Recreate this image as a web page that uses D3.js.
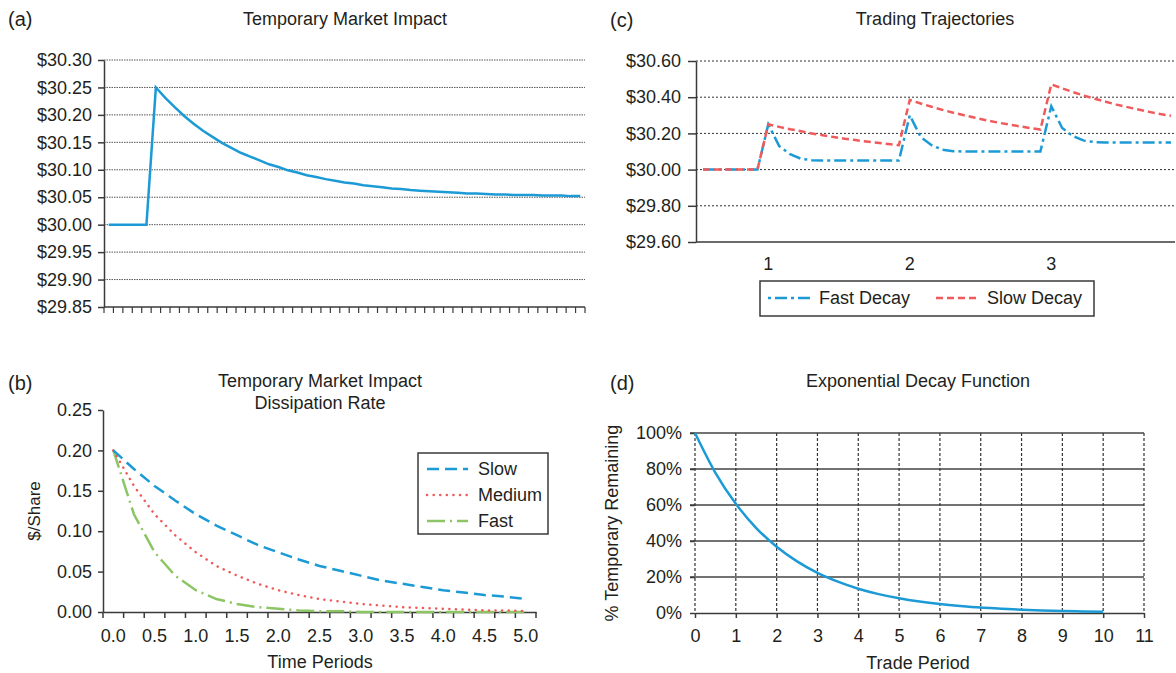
<!DOCTYPE html>
<html lang="en">
<head>
<meta charset="UTF-8" />
<title>Temporary Market Impact</title>
<script src="https://d3js.org/d3.v7.min.js"></script>
<style>
  body {
    margin: 0;
    background: white;
    font-family: "Liberation Sans", Arial, sans-serif;
  }
  svg { display: block; }
  text { fill: #231f20; }
</style>
</head>
<body>
<svg width="1176" height="673"></svg>
<script>
// (a) price after one trade
const impactPrice = [30.000, 30.000, 30.000, 30.000, 30.000,
  30.250, 30.231, 30.214, 30.198, 30.184, 30.171, 30.160, 30.149, 30.140, 30.131,
  30.124, 30.117, 30.110, 30.105, 30.099, 30.095, 30.090, 30.087, 30.083, 30.080,
  30.077, 30.075, 30.072, 30.070, 30.068, 30.066, 30.065, 30.063, 30.062, 30.061,
  30.060, 30.059, 30.058, 30.057, 30.057, 30.056, 30.055, 30.055, 30.054, 30.054,
  30.054, 30.053, 30.053, 30.053, 30.052, 30.052];
const impactTicks = [29.85, 29.90, 29.95, 30.00, 30.05, 30.10, 30.15, 30.20, 30.25, 30.30];

// (b) dissipation rate
const timePeriods = [0.00, 0.25, 0.50, 0.75, 1.00, 1.25, 1.50, 1.75, 2.00, 2.25, 2.50,
  2.75, 3.00, 3.25, 3.50, 3.75, 4.00, 4.25, 4.50, 4.75, 5.00];
const slowDecay = [0.200, 0.177, 0.156, 0.138, 0.121, 0.107, 0.095, 0.083, 0.074, 0.065, 0.057,
  0.051, 0.045, 0.039, 0.035, 0.031, 0.027, 0.024, 0.021, 0.019, 0.016];
const mediumDecay = [0.200, 0.156, 0.121, 0.095, 0.074, 0.057, 0.045, 0.035, 0.027, 0.021, 0.016,
  0.013, 0.010, 0.008, 0.006, 0.005, 0.004, 0.003, 0.002, 0.002, 0.001];
const fastDecay = [0.200, 0.121, 0.074, 0.045, 0.027, 0.016, 0.010, 0.006, 0.004, 0.002, 0.001,
  0.001, 0.000, 0.000, 0.000, 0.000, 0.000, 0.000, 0.000, 0.000, 0.000];
const dissipationTicks = [0, 0.05, 0.10, 0.15, 0.20, 0.25];

// (c) trading trajectories
const fastTrajectory = [30.00, 30.00, 30.00, 30.00, 30.00, 30.00,
  30.25, 30.13, 30.085, 30.06, 30.052, 30.05, 30.05, 30.05, 30.05, 30.05, 30.05, 30.05, 30.05,
  30.30, 30.18, 30.135, 30.11, 30.102, 30.10, 30.10, 30.10, 30.10, 30.10, 30.10, 30.10, 30.10,
  30.35, 30.23, 30.185, 30.16, 30.152, 30.15, 30.15, 30.15, 30.15, 30.15, 30.15, 30.15];
const slowTrajectory = [30.00, 30.00, 30.00, 30.00, 30.00, 30.00,
  30.250, 30.236, 30.223, 30.212, 30.200, 30.190, 30.180, 30.171, 30.163, 30.155, 30.148, 30.141, 30.135,
  30.385, 30.365, 30.347, 30.330, 30.314, 30.300, 30.286, 30.273, 30.261, 30.250, 30.240, 30.230, 30.221,
  30.471, 30.449, 30.428, 30.409, 30.391, 30.375, 30.359, 30.345, 30.332, 30.319, 30.307, 30.297];
const tradeLabels = ["1", "2", "3"];
const tradeSteps = [6, 19, 32];
const trajectoryTicks = [29.60, 29.80, 30.00, 30.20, 30.40, 30.60];

// (d) exponential decay
const decayPeriods = [0, 0.5, 1, 1.5, 2, 2.5, 3, 3.5, 4, 4.5, 5, 5.5, 6, 6.5, 7, 7.5, 8, 8.5, 9, 9.5, 10];
const decayRemaining = [1.000, 0.779, 0.607, 0.472, 0.368, 0.287, 0.223, 0.174, 0.135, 0.105, 0.082,
  0.064, 0.050, 0.039, 0.030, 0.024, 0.018, 0.014, 0.011, 0.009, 0.007];
const periodTicks = [0, 1, 2, 3, 4, 5, 6, 7, 8, 9, 10, 11];
const remainingTicks = [0, 0.2, 0.4, 0.6, 0.8, 1.0];

const ink = "#231f20";
const axisInk = "#3a3a3a";
const blue = "#1c9ad6";
const red = "#f05a5a";
const green = "#8cc563";

const svg = d3.select("svg");

function label(x, y, str, size, anchor) {
  return svg.append("text")
    .attr("x", x).attr("y", y)
    .attr("font-size", size)
    .attr("text-anchor", anchor || "start")
    .text(str);
}

function styleAxis(sel) {
  sel.attr("font-family", null).attr("font-size", 18);
  sel.selectAll("text").attr("fill", ink);
  sel.selectAll("line").attr("stroke", axisInk).attr("stroke-width", 1.5);
  sel.select(".domain").attr("stroke", axisInk).attr("stroke-width", 1.5);
}

// ---------- (a) ----------
label(8, 26, "(a)", 20);
label(345, 25, "Temporary Market Impact", 18, "middle");

const xa = d3.scaleBand().domain(impactPrice.map((d, i) => i)).range([104, 585]);
const ya = d3.scaleLinear().domain([29.85, 30.30]).range([307, 60]);

svg.append("g").selectAll("line")
  .data(impactTicks.slice(1))
  .join("line")
  .attr("x1", 104).attr("x2", 585)
  .attr("y1", d => ya(d)).attr("y2", d => ya(d))
  .attr("stroke", "#555").attr("stroke-width", 1)
  .attr("stroke-dasharray", "1.5,1");

svg.append("g")
  .attr("transform", "translate(104,0)")
  .call(d3.axisLeft(ya).tickValues(impactTicks).tickSize(6).tickSizeOuter(0)
    .tickPadding(6).tickFormat(d => "$" + d.toFixed(2)))
  .call(styleAxis);

// category boundaries on the x axis
svg.append("g").selectAll("line")
  .data(xa.domain().map(i => xa(i)).concat([xa.range()[1]]))
  .join("line")
  .attr("x1", d => d).attr("x2", d => d)
  .attr("y1", 307).attr("y2", 313)
  .attr("stroke", axisInk).attr("stroke-width", 1.2);
svg.append("line")
  .attr("x1", 104).attr("x2", 585).attr("y1", 307).attr("y2", 307)
  .attr("stroke", axisInk).attr("stroke-width", 1.5);

svg.append("path")
  .datum(impactPrice)
  .attr("fill", "none")
  .attr("stroke", blue)
  .attr("stroke-width", 2.5)
  .attr("d", d3.line().x((d, i) => xa(i) + xa.bandwidth() / 2).y(d => ya(d)));

// ---------- (b) ----------
label(8, 390, "(b)", 20);
label(320, 387, "Temporary Market Impact", 18, "middle");
label(320, 409, "Dissipation Rate", 18, "middle");

const xb = d3.scaleBand().domain(timePeriods).range([103, 536]);
const yb = d3.scaleLinear().domain([0, 0.25]).range([612, 410]);

svg.append("g")
  .attr("transform", "translate(103,0)")
  .call(d3.axisLeft(yb).tickValues(dissipationTicks).tickSize(5).tickSizeOuter(0)
    .tickPadding(6).tickFormat(d3.format(".2f")))
  .call(styleAxis);

svg.append("g")
  .attr("transform", "translate(0,612)")
  .call(d3.axisBottom(xb).tickValues(timePeriods.filter((d, i) => i % 2 === 0))
    .tickSize(0).tickSizeOuter(0).tickPadding(17).tickFormat(d3.format(".1f")))
  .call(styleAxis);

svg.append("g").selectAll("line")
  .data(xb.domain().map(d => xb(d)).concat([xb.range()[1]]))
  .join("line")
  .attr("x1", d => d).attr("x2", d => d)
  .attr("y1", 612).attr("y2", 618)
  .attr("stroke", axisInk).attr("stroke-width", 1.5);

label(320, 668, "Time Periods", 18, "middle");
svg.append("text")
  .attr("transform", "translate(40,511) rotate(-90)")
  .attr("text-anchor", "middle")
  .attr("font-size", 17)
  .text("$/Share");

const bSeries = [
  { name: "Slow", values: slowDecay, color: blue, dash: "12,6", cap: "butt" },
  { name: "Medium", values: mediumDecay, color: red, dash: "0.1,6.5", cap: "round" },
  { name: "Fast", values: fastDecay, color: green, dash: "18,5,2,5", cap: "butt" }
];

const lineB = d3.line()
  .x((d, i) => xb(timePeriods[i]) + xb.bandwidth() / 2)
  .y(d => yb(d));

svg.append("g").selectAll("path")
  .data(bSeries.slice().reverse())
  .join("path")
  .attr("fill", "none")
  .attr("stroke", d => d.color)
  .attr("stroke-width", 2.5)
  .attr("stroke-linecap", d => d.cap)
  .attr("stroke-dasharray", d => d.dash)
  .attr("d", d => lineB(d.values));

svg.append("rect")
  .attr("x", 418).attr("y", 453).attr("width", 130).attr("height", 81)
  .attr("fill", "white").attr("stroke", axisInk).attr("stroke-width", 1.5);

const legB = svg.append("g").selectAll("g")
  .data(bSeries)
  .join("g")
  .attr("transform", (d, i) => `translate(0,${469 + i * 26})`);
legB.append("line")
  .attr("x1", 427).attr("x2", 468)
  .attr("stroke", d => d.color)
  .attr("stroke-width", 2.5)
  .attr("stroke-linecap", d => d.cap)
  .attr("stroke-dasharray", d => d.dash);
legB.append("text")
  .attr("x", 478).attr("y", 6)
  .attr("font-size", 18)
  .text(d => d.name);

// ---------- (c) ----------
label(610, 27, "(c)", 20);
label(935, 25, "Trading Trajectories", 18, "middle");

const xc = d3.scaleLinear().domain([0, fastTrajectory.length - 1]).range([703, 1171]);
const yc = d3.scaleLinear().domain([29.60, 30.60]).range([242, 61]);

svg.append("g").selectAll("line")
  .data(trajectoryTicks.slice(1))
  .join("line")
  .attr("x1", 696).attr("x2", 1176)
  .attr("y1", d => yc(d)).attr("y2", d => yc(d))
  .attr("stroke", "#333").attr("stroke-width", 1)
  .attr("stroke-dasharray", "2,2");

svg.append("g")
  .attr("transform", "translate(696,0)")
  .call(d3.axisLeft(yc).tickValues(trajectoryTicks).tickSize(8).tickSizeOuter(0)
    .tickPadding(7).tickFormat(d => "$" + d.toFixed(2)))
  .call(styleAxis);

svg.append("line")
  .attr("x1", 696).attr("x2", 1175).attr("y1", 242).attr("y2", 242)
  .attr("stroke", axisInk).attr("stroke-width", 1.5);

svg.append("g").selectAll("text")
  .data(tradeSteps)
  .join("text")
  .attr("x", d => xc(d)).attr("y", 270)
  .attr("text-anchor", "middle")
  .attr("font-size", 18)
  .text((d, i) => tradeLabels[i]);

const cSeries = [
  { name: "Fast Decay", values: fastTrajectory, color: blue, dash: "12,4,3,4" },
  { name: "Slow Decay", values: slowTrajectory, color: red, dash: "7,4" }
];

const lineC = d3.line().x((d, i) => xc(i)).y(d => yc(d));
svg.append("g").selectAll("path")
  .data(cSeries)
  .join("path")
  .attr("fill", "none")
  .attr("stroke", d => d.color)
  .attr("stroke-width", 2.5)
  .attr("stroke-dasharray", d => d.dash)
  .attr("d", d => lineC(d.values));

svg.append("rect")
  .attr("x", 760).attr("y", 281).attr("width", 334).attr("height", 35)
  .attr("fill", "white").attr("stroke", axisInk).attr("stroke-width", 1.5);

const legC = svg.append("g").selectAll("g")
  .data(cSeries)
  .join("g")
  .attr("transform", (d, i) => `translate(${i * 168},298)`);
legC.append("line")
  .attr("x1", 768).attr("x2", 811)
  .attr("stroke", d => d.color)
  .attr("stroke-width", 2.5)
  .attr("stroke-dasharray", (d, i) => i === 0 ? "3,4,12,4" : d.dash);
legC.append("text")
  .attr("x", 819).attr("y", 6)
  .attr("font-size", 18)
  .text(d => d.name);

// ---------- (d) ----------
label(610, 390, "(d)", 20);
label(918, 387, "Exponential Decay Function", 18, "middle");

const xd = d3.scaleLinear().domain([0, 11]).range([695, 1144]);
const yd = d3.scaleLinear().domain([0, 1]).range([613, 433]);

svg.append("g").selectAll("line")
  .data(remainingTicks.slice(1))
  .join("line")
  .attr("x1", 690).attr("x2", 1144)
  .attr("y1", d => yd(d)).attr("y2", d => yd(d))
  .attr("stroke", "#444").attr("stroke-width", 1.5);

svg.append("g").selectAll("line")
  .data(periodTicks)
  .join("line")
  .attr("x1", d => xd(d)).attr("x2", d => xd(d))
  .attr("y1", 433).attr("y2", 613)
  .attr("stroke", "#333").attr("stroke-width", 1.2)
  .attr("stroke-dasharray", "3,2");

svg.append("g")
  .attr("transform", "translate(695,0)")
  .call(d3.axisLeft(yd).tickValues(remainingTicks).tickSize(5).tickSizeOuter(0)
    .tickPadding(8).tickFormat(d3.format(".0%")))
  .call(styleAxis)
  .call(g => g.select(".domain").remove());

svg.append("g")
  .attr("transform", "translate(0,613)")
  .call(d3.axisBottom(xd).tickValues(periodTicks).tickSize(5).tickSizeOuter(0)
    .tickPadding(11).tickFormat(d3.format("d")))
  .call(styleAxis);

svg.append("path")
  .datum(decayRemaining)
  .attr("fill", "none")
  .attr("stroke", blue)
  .attr("stroke-width", 2.5)
  .attr("d", d3.line().curve(d3.curveMonotoneX)
    .x((d, i) => xd(decayPeriods[i])).y(d => yd(d)));

label(918, 669, "Trade Period", 18, "middle");
svg.append("text")
  .attr("transform", "translate(618,523) rotate(-90)")
  .attr("text-anchor", "middle")
  .attr("font-size", 18)
  .text("% Temporary Remaining");
</script>
</body>
</html>
